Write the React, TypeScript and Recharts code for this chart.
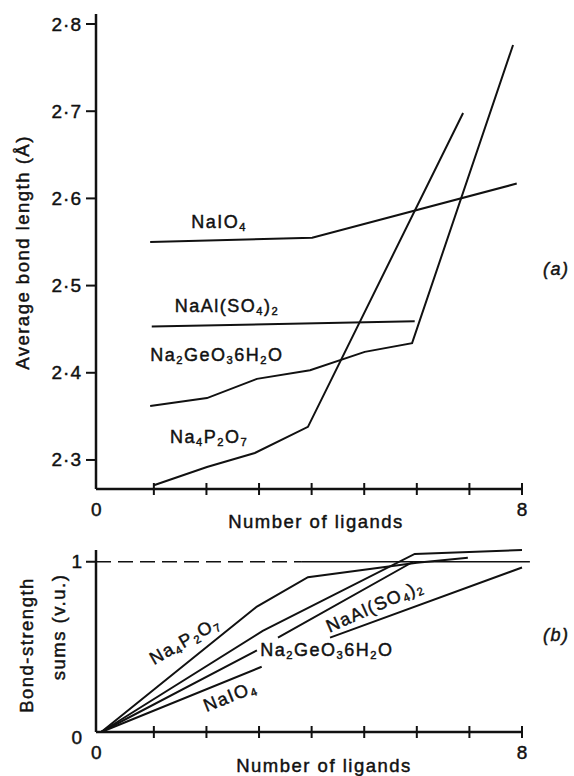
import { LineChart, Line, XAxis, YAxis, ReferenceDot, ReferenceLine } from "recharts"

const FONT = "'Liberation Sans', Arial, sans-serif"
const INK = "#111"
const HEFT = 0.45 // thin outline so the type looks as heavy as the print

// number of ligands (x, both panels)
const ligandTicks = [0, 1, 2, 3, 4, 5, 6, 7, 8]

// (a) average bond length, Å
const lengthTicks = [2.3, 2.4, 2.5, 2.6, 2.7, 2.8]
const lengthNaIO4 = [
    { n: 0.93, v: 2.55 },
    { n: 4.01, v: 2.555 },
    { n: 7.9, v: 2.617 },
]
const lengthNaAlSO4 = [
    { n: 0.96, v: 2.453 },
    { n: 5.96, v: 2.459 },
]
const lengthNa2GeO3 = [
    { n: 0.93, v: 2.362 },
    { n: 2.01, v: 2.371 },
    { n: 2.96, v: 2.393 },
    { n: 3.97, v: 2.403 },
    { n: 5.01, v: 2.424 },
    { n: 5.91, v: 2.434 },
    { n: 7.83, v: 2.776 },
]
const lengthNa4P2O7 = [
    { n: 1.0, v: 2.271 },
    { n: 2.01, v: 2.292 },
    { n: 2.92, v: 2.308 },
    { n: 3.93, v: 2.338 },
    { n: 6.88, v: 2.698 },
]

// (b) bond-strength sums, v.u. (null = break in the line under a label)
const sumTicks = [0, 1]
const sumNa4P2O7 = [
    { n: 0, v: 0 },
    { n: 2.96, v: 0.737 },
    { n: 3.93, v: 0.909 },
    { n: 6.0, v: 0.994 },
    { n: 6.97, v: 1.023 },
]
const sumNa2GeO3 = [
    { n: 0, v: 0 },
    { n: 3.07, v: 0.594 },
    { n: 5.96, v: 1.046 },
    { n: 8, v: 1.069 },
]
const sumNaAlSO4 = [
    { n: 0, v: 0 },
    { n: 2.96, v: 0.48 },
    { n: 3.16, v: null },
    { n: 3.36, v: 0.554 },
    { n: 5.93, v: 1.0 },
]
const sumNaIO4 = [
    { n: 0, v: 0 },
    { n: 3.05, v: 0.383 },
    { n: 3.7, v: null },
    { n: 4.35, v: 0.554 },
    { n: 8, v: 0.966 },
]

// compound names, {x} = subscript
const NAIO4 = "NaIO{4}"
const NAAL = "NaAl(SO{4}){2}"
const NAGE = "Na{2}GeO{3}6H{2}O"
const NAP = "Na{4}P{2}O{7}"

// where the names sit (data coords of the text centre)
const lengthNotes = [
    { text: NAIO4, n: 2.24, v: 2.573, angle: 0 },
    { text: NAAL, n: 2.39, v: 2.477, angle: 0 },
    { text: NAGE, n: 2.2, v: 2.42, angle: 0 },
    { text: NAP, n: 2.05, v: 2.326, angle: 0 },
]
const sumNotes = [
    { text: NAP, n: 1.59, v: 0.537, angle: -30 },
    { text: NAIO4, n: 2.45, v: 0.211, angle: -22 },
    { text: NAGE, n: 4.29, v: 0.48, angle: 0 },
    { text: NAAL, n: 5.2, v: 0.74, angle: -24 },
]

const Formula = ({ x, y, text, angle = 0, size = 18, italic = false }: any) => {
    const parts = text.split(/(\{[^}]*\})/).filter(Boolean)
    const drop = size * 0.28
    let low = false
    return (
        <text x={x} y={y} textAnchor="middle" dominantBaseline="central"
            transform={angle ? `rotate(${angle} ${x} ${y})` : undefined}
            fontSize={size} fill={INK} stroke={INK} strokeWidth={HEFT} fontFamily={FONT}
            fontStyle={italic ? "italic" : "normal"} style={{ letterSpacing: 1.5 }}>
            {parts.map((p: string, i: number) => {
                if (p.startsWith("{")) {
                    const dy = low ? 0 : drop
                    low = true
                    return <tspan key={i} fontSize={size * 0.62} dy={dy}>{p.slice(1, -1)}</tspan>
                }
                const dy = low ? -drop : 0
                low = false
                return <tspan key={i} dy={dy}>{p}</tspan>
            })}
        </text>
    )
}

const note = (text: string, angle = 0, italic = false) => (p: any) => {
    const vb = p.viewBox
    return <Formula x={vb.x + vb.width / 2} y={vb.y + vb.height / 2} text={text} angle={angle} italic={italic} />
}

const LigandTick = ({ x, y, payload }: any) => {
    const n = payload.value
    return (
        <g>
            {n > 0 && <line x1={x} x2={x} y1={y - 6} y2={y + 6} stroke={INK} strokeWidth={2} />}
            {(n === 0 || n === 8) && (
                <text x={n === 0 ? x - 5 : x} y={y + 20} textAnchor="middle" dominantBaseline="central"
                    fontSize={19} fill={INK} stroke={INK} strokeWidth={HEFT} fontFamily={FONT}>{n}</text>
            )}
        </g>
    )
}

const LengthTick = ({ x, y, payload }: any) => (
    <text x={x} y={y} textAnchor="end" dominantBaseline="central" fontSize={19} fill={INK}
        stroke={INK} strokeWidth={HEFT} fontFamily={FONT} style={{ letterSpacing: 1 }}>
        {payload.value.toFixed(1).replace(".", "·")}
    </text>
)

const SumTick = ({ x, y, payload }: any) => {
    const v = payload.value
    return (
        <g>
            {v > 0 && <line x1={x + 4} x2={x + 14} y1={y} y2={y} stroke={INK} strokeWidth={2} />}
            <text x={x} y={v === 0 ? y + 5 : y} textAnchor="end" dominantBaseline="central" fontSize={19}
                fill={INK} stroke={INK} strokeWidth={HEFT} fontFamily={FONT}>{v}</text>
        </g>
    )
}

const title = (text: string, dx: number, dy: number, angle = 0) => (p: any) => {
    const vb = p.viewBox
    const x = vb.x + vb.width / 2 + dx
    const y = vb.y + dy
    return (
        <text x={x} y={y} textAnchor="middle" dominantBaseline="central" fontSize={18.5} fill={INK}
            stroke={INK} strokeWidth={HEFT} fontFamily={FONT}
            transform={angle ? `rotate(${angle} ${x} ${y})` : undefined}
            style={{ letterSpacing: 1.5 }}>{text}</text>
    )
}

const sumTitle = (p: any) => {
    const vb = p.viewBox
    const cy = vb.y + vb.height / 2
    return (
        <g fontSize={18.5} fill={INK} stroke={INK} strokeWidth={HEFT} fontFamily={FONT} style={{ letterSpacing: 1.5 }}>
            <text x={26} y={cy + 4} textAnchor="middle" dominantBaseline="central"
                transform={`rotate(-90 26 ${cy + 4})`}>Bond-strength</text>
            <text x={58} y={cy - 14} textAnchor="middle" dominantBaseline="central"
                transform={`rotate(-90 58 ${cy - 14})`}>sums (v.u.)</text>
        </g>
    )
}

const line = (data: any[], key: string) => (
    <Line key={key} data={data} dataKey="v" type="linear" stroke={INK} strokeWidth={2}
        dot={false} connectNulls={false} isAnimationActive={false} />
)

const axisLine = { stroke: INK, strokeWidth: 2.5 }

export default function App() {
    return (
        <div style={{ position: "absolute", left: 0, top: 0, width: 574, height: 776, background: "#fff" }}>
            <div style={{ position: "absolute", left: 0, top: 0 }}>
                <LineChart width={574} height={540} margin={{ top: 14, right: 52, bottom: 21, left: 0 }}>
                    <XAxis dataKey="n" type="number" domain={[-0.1, 8]} ticks={ligandTicks} height={30}
                        axisLine={axisLine} tickLine={false} tickSize={0} tickMargin={0} tick={<LigandTick />}
                        label={{ content: title("Number of ligands", 7, 32) }} />
                    <YAxis dataKey="v" type="number" domain={[2.2667, 2.8115]} ticks={lengthTicks} width={96}
                        axisLine={axisLine} tickLine={{ stroke: INK, strokeWidth: 2 }} tickSize={10} tickMargin={4}
                        tick={<LengthTick />}
                        label={{ content: (p: any) => title("Average bond length (Å)", -26, p.viewBox.height / 2 + 1, -90)(p) }} />
                    {line(lengthNaIO4, "a-io4")}
                    {line(lengthNaAlSO4, "a-al")}
                    {line(lengthNa2GeO3, "a-ge")}
                    {line(lengthNa4P2O7, "a-p")}
                    {lengthNotes.map((l) => (
                        <ReferenceDot key={l.text} x={l.n} y={l.v} r={0} fill="none" stroke="none"
                            ifOverflow="visible" label={note(l.text, l.angle)} />
                    ))}
                    <ReferenceDot x={8.65} y={2.519} r={0} fill="none" stroke="none" ifOverflow="visible"
                        label={note("(a)", 0, true)} />
                </LineChart>
            </div>
            <div style={{ position: "absolute", left: 0, top: 540 }}>
                <LineChart width={574} height={236} margin={{ top: 10, right: 52, bottom: 14, left: 0 }}>
                    <XAxis dataKey="n" type="number" domain={[-0.1, 8]} ticks={ligandTicks} height={30}
                        axisLine={axisLine} tickLine={false} tickSize={0} tickMargin={0} tick={<LigandTick />}
                        label={{ content: title("Number of ligands", 15, 33) }} />
                    <YAxis dataKey="v" type="number" domain={[0, 1.04]} ticks={sumTicks} width={96}
                        axisLine={axisLine} tickLine={false} tickSize={10} tickMargin={4} tick={<SumTick />}
                        label={{ content: sumTitle }} />
                    <ReferenceLine segment={[{ x: -0.1, y: 1 }, { x: 3.8, y: 1 }]} stroke={INK} strokeWidth={1.3}
                        strokeDasharray="15 7" ifOverflow="visible" />
                    <ReferenceLine segment={[{ x: 3.8, y: 1 }, { x: 8.15, y: 1 }]} stroke={INK} strokeWidth={1.3}
                        ifOverflow="visible" />
                    {line(sumNa4P2O7, "b-p")}
                    {line(sumNa2GeO3, "b-ge")}
                    {line(sumNaAlSO4, "b-al")}
                    {line(sumNaIO4, "b-io4")}
                    {sumNotes.map((l) => (
                        <ReferenceDot key={l.text} x={l.n} y={l.v} r={0} fill="none" stroke="none"
                            ifOverflow="visible" label={note(l.text, l.angle)} />
                    ))}
                    <ReferenceDot x={8.65} y={0.571} r={0} fill="none" stroke="none" ifOverflow="visible"
                        label={note("(b)", 0, true)} />
                </LineChart>
            </div>
        </div>
    )
}
